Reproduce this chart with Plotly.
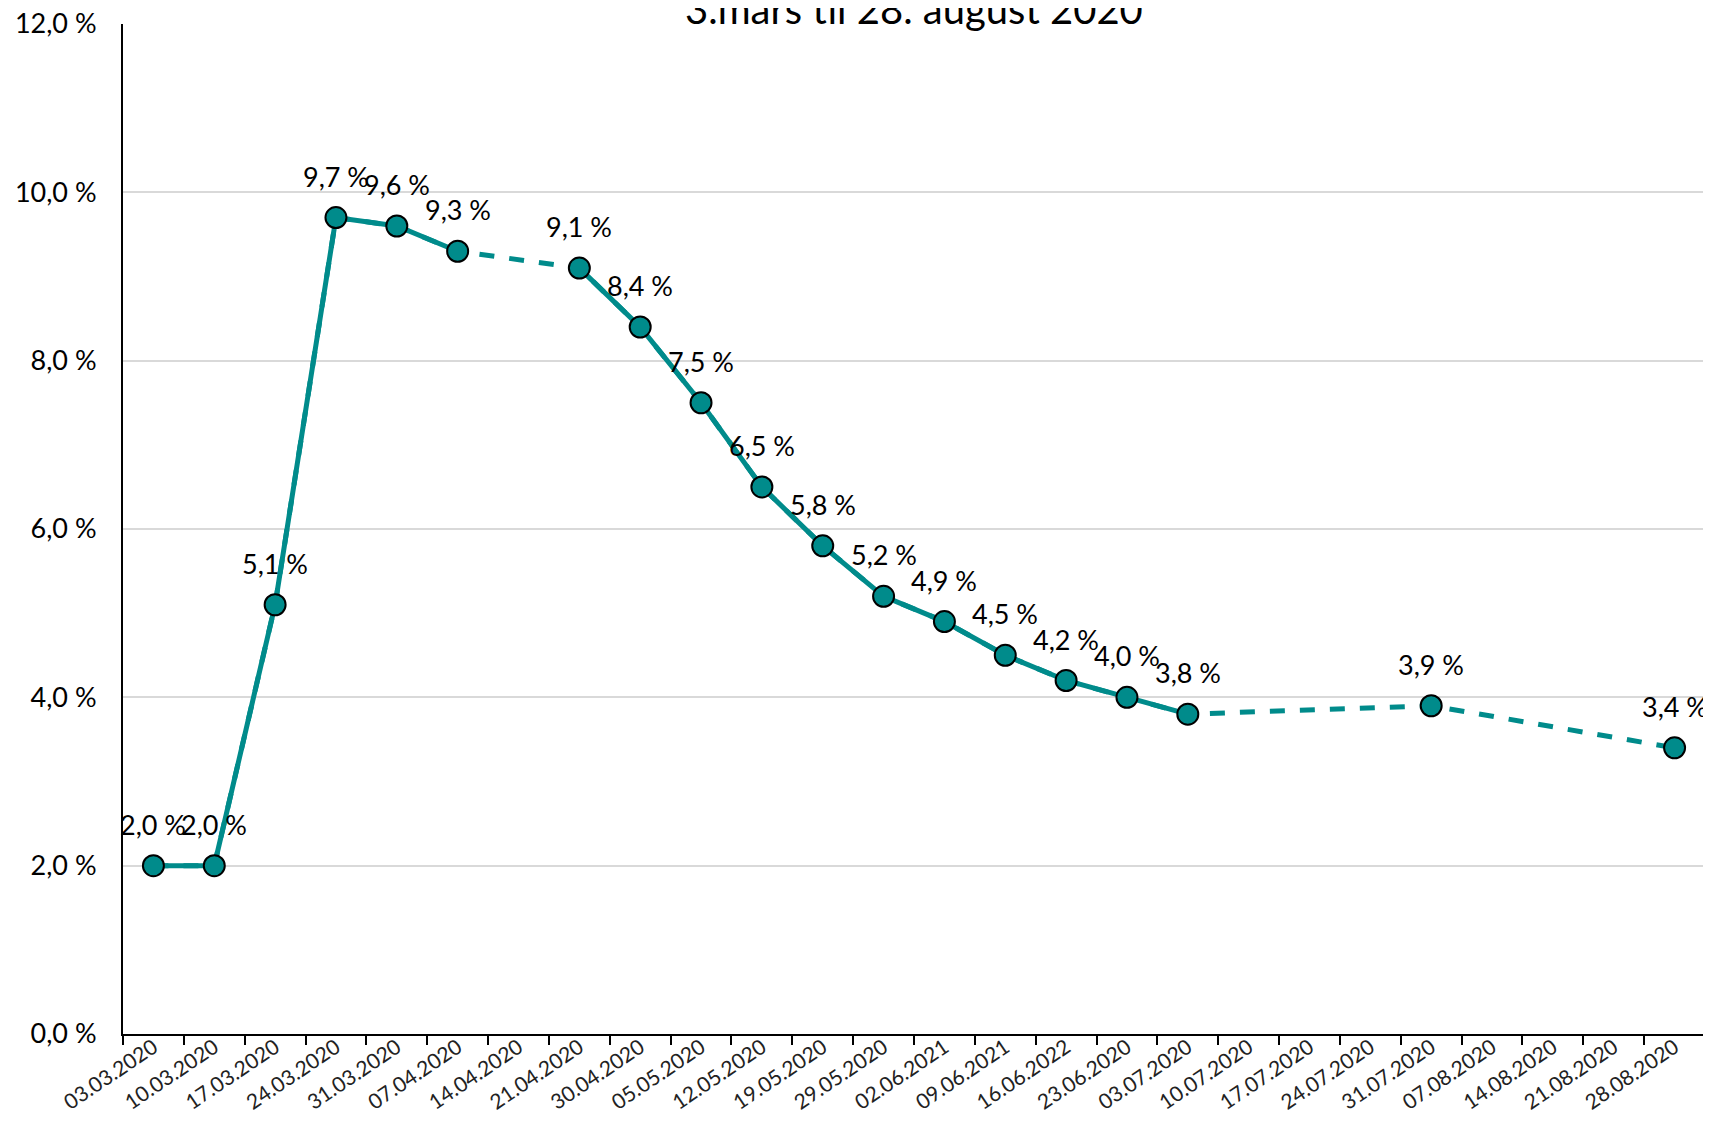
import plotly.graph_objects as go

# datoer på x-aksen (kategorier)
datoer = ["03.03.2020", "10.03.2020", "17.03.2020", "24.03.2020", "31.03.2020",
          "07.04.2020", "14.04.2020", "21.04.2020", "30.04.2020", "05.05.2020",
          "12.05.2020", "19.05.2020", "29.05.2020", "02.06.2021", "09.06.2021",
          "16.06.2022", "23.06.2020", "03.07.2020", "10.07.2020", "17.07.2020",
          "24.07.2020", "31.07.2020", "07.08.2020", "14.08.2020", "21.08.2020",
          "28.08.2020"]

# ledighet i prosent (None = ingen måling)
ledighet = [2.0, 2.0, 5.1, 9.7, 9.6, 9.3, None, 9.1, 8.4, 7.5, 6.5, 5.8, 5.2,
            4.9, 4.5, 4.2, 4.0, 3.8, None, None, None, 3.9, None, None, None, 3.4]

y_ticks = [0, 2, 4, 6, 8, 10, 12]
y_ticktekst = ["0,0 %", "2,0 %", "4,0 %", "6,0 %", "8,0 %", "10,0 %", "12,0 %"]

tittel = "3.mars til 28. august 2020"

FARGE = "#008B8B"
FONT = "Lato"


def pst(v):
    return f"{v:.1f}".replace(".", ",") + " %"


x_med = [d for d, v in zip(datoer, ledighet) if v is not None]
y_med = [v for v in ledighet if v is not None]

fig = go.Figure()

# stiplet linje over hullene
fig.add_trace(go.Scatter(x=x_med, y=y_med, mode="lines",
                         line=dict(color=FARGE, width=5, dash="dash"),
                         hoverinfo="skip", showlegend=False))

# heltrukket linje mellom nabopunkter + markører
fig.add_trace(go.Scatter(x=datoer, y=ledighet, mode="lines+markers",
                         connectgaps=False, cliponaxis=False,
                         line=dict(color=FARGE, width=5),
                         marker=dict(size=21, color=FARGE, line=dict(color="black", width=2)),
                         showlegend=False))

# dataetiketter over punktene
for d, v in zip(x_med, y_med):
    fig.add_annotation(x=d, y=v, text=pst(v), showarrow=False,
                       yanchor="bottom", yshift=23,
                       font=dict(family=FONT, size=27, color="black"))

# tittelen er delvis skjult øverst, som i originalen
fig.add_annotation(text=tittel, x=0.5, xref="paper", y=1, yref="paper",
                   yanchor="bottom", yshift=-11, showarrow=False,
                   font=dict(family=FONT, size=40, color="black"))

# siden har 8 px marg rundt figuren, så figuren gjøres litt mindre
fig.update_layout(
    width=1703, height=1118,
    margin=dict(l=115, r=6, t=16, b=92),
    plot_bgcolor="white", paper_bgcolor="white",
    font=dict(family=FONT, color="black"),
)

fig.update_xaxes(
    type="category", categoryorder="array", categoryarray=datoer,
    range=[-0.5, len(datoer) - 0.5], automargin=False,
    tickson="boundaries", ticks="outside", ticklen=9, tickwidth=2, tickcolor="black",
    showline=True, linecolor="black", linewidth=2,
    showgrid=False, tickangle=-34, ticklabelstandoff=-9,
    tickfont=dict(family=FONT, size=21, color="#222222"),
)

fig.update_yaxes(
    range=[0, 12], tickvals=y_ticks, ticktext=y_ticktekst, automargin=False,
    showgrid=True, gridcolor="#d9d9d9", gridwidth=2,
    showline=True, linecolor="black", linewidth=2,
    zeroline=False, ticks="", ticklabelstandoff=19, ticklabeloverflow="allow",
    tickfont=dict(family=FONT, size=27, color="black"),
)

fig.write_html("out.html")
